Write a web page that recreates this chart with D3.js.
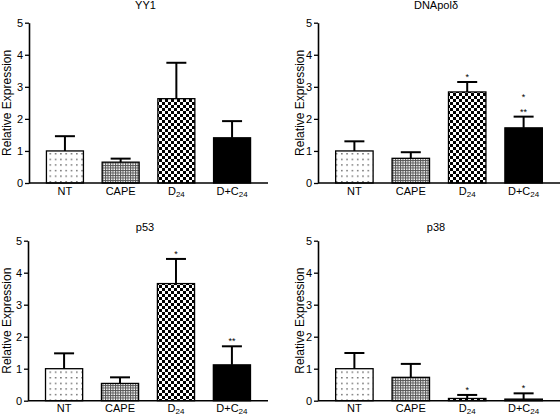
<!DOCTYPE html>
<html>
<head>
<meta charset="utf-8">
<script src="https://cdn.jsdelivr.net/npm/d3@7"></script>
<style>
  html, body { margin: 0; padding: 0; background: #fff; }
  svg { display: block; font-family: "Liberation Sans", Arial, sans-serif; }
</style>
</head>
<body>
<svg id="chart" width="560" height="416"></svg>
<script>
// ---------- DATA ----------
const categories = ["NT", "CAPE", "D24", "D+C24"];
const titles = ["YY1", "DNApolδ", "p53", "p38"];
const yTicks = [0, 1, 2, 3, 4, 5];

const yy1Means = [1.0, 0.65, 2.63, 1.41];
const yy1Err   = [0.46, 0.11, 1.12, 0.52];
const yy1Stars = [[], [], [], []];

const dnaMeans = [1.0, 0.77, 2.84, 1.72];
const dnaErr   = [0.30, 0.19, 0.31, 0.35];
const dnaStars = [[], [], ["*"], ["*", "**"]];

const p53Means = [1.0, 0.54, 3.66, 1.12];
const p53Err   = [0.48, 0.19, 0.77, 0.58];
const p53Stars = [[], [], ["*"], ["**"]];

const p38Means = [1.0, 0.73, 0.07, 0.05];
const p38Err   = [0.49, 0.42, 0.11, 0.18];
const p38Stars = [[], [], ["*"], ["*"]];

// ---------- LAYOUT ----------
const panels = [
  { title: titles[0], means: yy1Means, err: yy1Err, stars: yy1Stars, x0: 29,  x1: 268, yb: 183,   yt: 22.7,  titleY: 9,   labX: 10.5 },
  { title: titles[1], means: dnaMeans, err: dnaErr, stars: dnaStars, x0: 318, x1: 560, yb: 183,   yt: 22.7,  titleY: 9,   labX: 304 },
  { title: titles[2], means: p53Means, err: p53Err, stars: p53Stars, x0: 28,  x1: 268, yb: 400.7, yt: 240.7, titleY: 231, labX: 10.5 },
  { title: titles[3], means: p38Means, err: p38Err, stars: p38Stars, x0: 318, x1: 560, yb: 400.7, yt: 240.7, titleY: 231, labX: 304 }
];

const svg = d3.select("#chart");
const defs = svg.append("defs");

// Patterns
const pDots = defs.append("pattern").attr("id", "pDots").attr("patternUnits", "userSpaceOnUse")
  .attr("width", 5.3).attr("height", 5.6);
pDots.append("rect").attr("width", 5.3).attr("height", 5.6).attr("fill", "#fff");
pDots.append("rect").attr("x", 2).attr("y", 2).attr("width", 1.2).attr("height", 1.2).attr("fill", "#222");

const pGrid = defs.append("pattern").attr("id", "pGrid").attr("patternUnits", "userSpaceOnUse")
  .attr("width", 2.5).attr("height", 2.5);
pGrid.append("rect").attr("width", 2.5).attr("height", 2.5).attr("fill", "#fff");
pGrid.append("rect").attr("width", 2.5).attr("height", 1).attr("fill", "#555");
pGrid.append("rect").attr("width", 1).attr("height", 2.5).attr("fill", "#555");

const pCheck = defs.append("pattern").attr("id", "pCheck").attr("patternUnits", "userSpaceOnUse")
  .attr("width", 6).attr("height", 6);
pCheck.append("rect").attr("width", 6).attr("height", 6).attr("fill", "#fff");
pCheck.append("rect").attr("width", 3).attr("height", 3).attr("fill", "#000");
pCheck.append("rect").attr("x", 3).attr("y", 3).attr("width", 3).attr("height", 3).attr("fill", "#000");

const fills = ["url(#pDots)", "url(#pGrid)", "url(#pCheck)", "#000"];

function labelText(sel, name) {
  const m = name.match(/^(.*?)(24)$/);
  if (m) {
    sel.append("tspan").text(m[1]);
    sel.append("tspan").attr("font-size", 8).attr("dy", 2).text(m[2]);
  } else {
    sel.text(name);
  }
}

panels.forEach(p => {
  const g = svg.append("g");
  const x = d3.scaleBand().domain(categories).range([p.x0, p.x1])
    .paddingInner(0.336).paddingOuter(0.313);
  const y = d3.scaleLinear().domain([0, 5]).range([p.yb, p.yt]);

  // Bars
  categories.forEach((c, i) => {
    g.append("rect")
      .attr("x", x(c)).attr("width", x.bandwidth())
      .attr("y", y(p.means[i])).attr("height", y(0) - y(p.means[i]))
      .attr("fill", fills[i]).attr("stroke", "#000").attr("stroke-width", 1.3);
  });

  // Error bars
  categories.forEach((c, i) => {
    const cx = x(c) + x.bandwidth() / 2;
    const top = y(p.means[i] + p.err[i]);
    g.append("line").attr("x1", cx).attr("x2", cx)
      .attr("y1", y(p.means[i])).attr("y2", top)
      .attr("stroke", "#000").attr("stroke-width", 2);
    g.append("line").attr("x1", cx - 10).attr("x2", cx + 10)
      .attr("y1", top).attr("y2", top)
      .attr("stroke", "#000").attr("stroke-width", 2);
    const lines = p.stars[i];
    lines.slice().reverse().forEach((s, k) => {
      g.append("text").attr("x", cx).attr("y", top - 2 - k * 15)
        .attr("text-anchor", "middle").attr("font-size", 9).text(s);
    });
  });

  // Y axis
  const yAxis = d3.axisLeft(y).tickValues(yTicks).tickSize(4).tickSizeOuter(0).tickPadding(2)
    .tickFormat(d3.format("d"));
  const ya = g.append("g").attr("transform", `translate(${p.x0},0)`).call(yAxis);
  ya.select(".domain").attr("stroke", "#000").attr("stroke-width", 1.6);
  ya.selectAll(".tick line").attr("stroke", "#000").attr("stroke-width", 1.3);
  ya.selectAll(".tick text").attr("font-size", 11).attr("fill", "#000")
    .attr("font-family", "Liberation Sans, Arial, sans-serif");

  // X axis baseline
  g.append("line").attr("x1", p.x0).attr("x2", p.x1).attr("y1", y(0)).attr("y2", y(0))
    .attr("stroke", "#000").attr("stroke-width", 1.6);

  // X labels
  categories.forEach(c => {
    const t = g.append("text").attr("x", x(c) + x.bandwidth() / 2).attr("y", y(0) + 11.5)
      .attr("text-anchor", "middle").attr("font-size", 11);
    labelText(t, c);
  });

  // Title
  g.append("text").attr("x", (p.x0 + p.x1) / 2 - 3).attr("y", p.titleY)
    .attr("text-anchor", "middle").attr("font-size", 11).text(p.title);

  // Y label
  g.append("text")
    .attr("transform", `translate(${p.labX},${(p.yb + p.yt) / 2}) rotate(-90)`)
    .attr("text-anchor", "middle").attr("font-size", 12).text("Relative Expression");
});
</script>
</body>
</html>
